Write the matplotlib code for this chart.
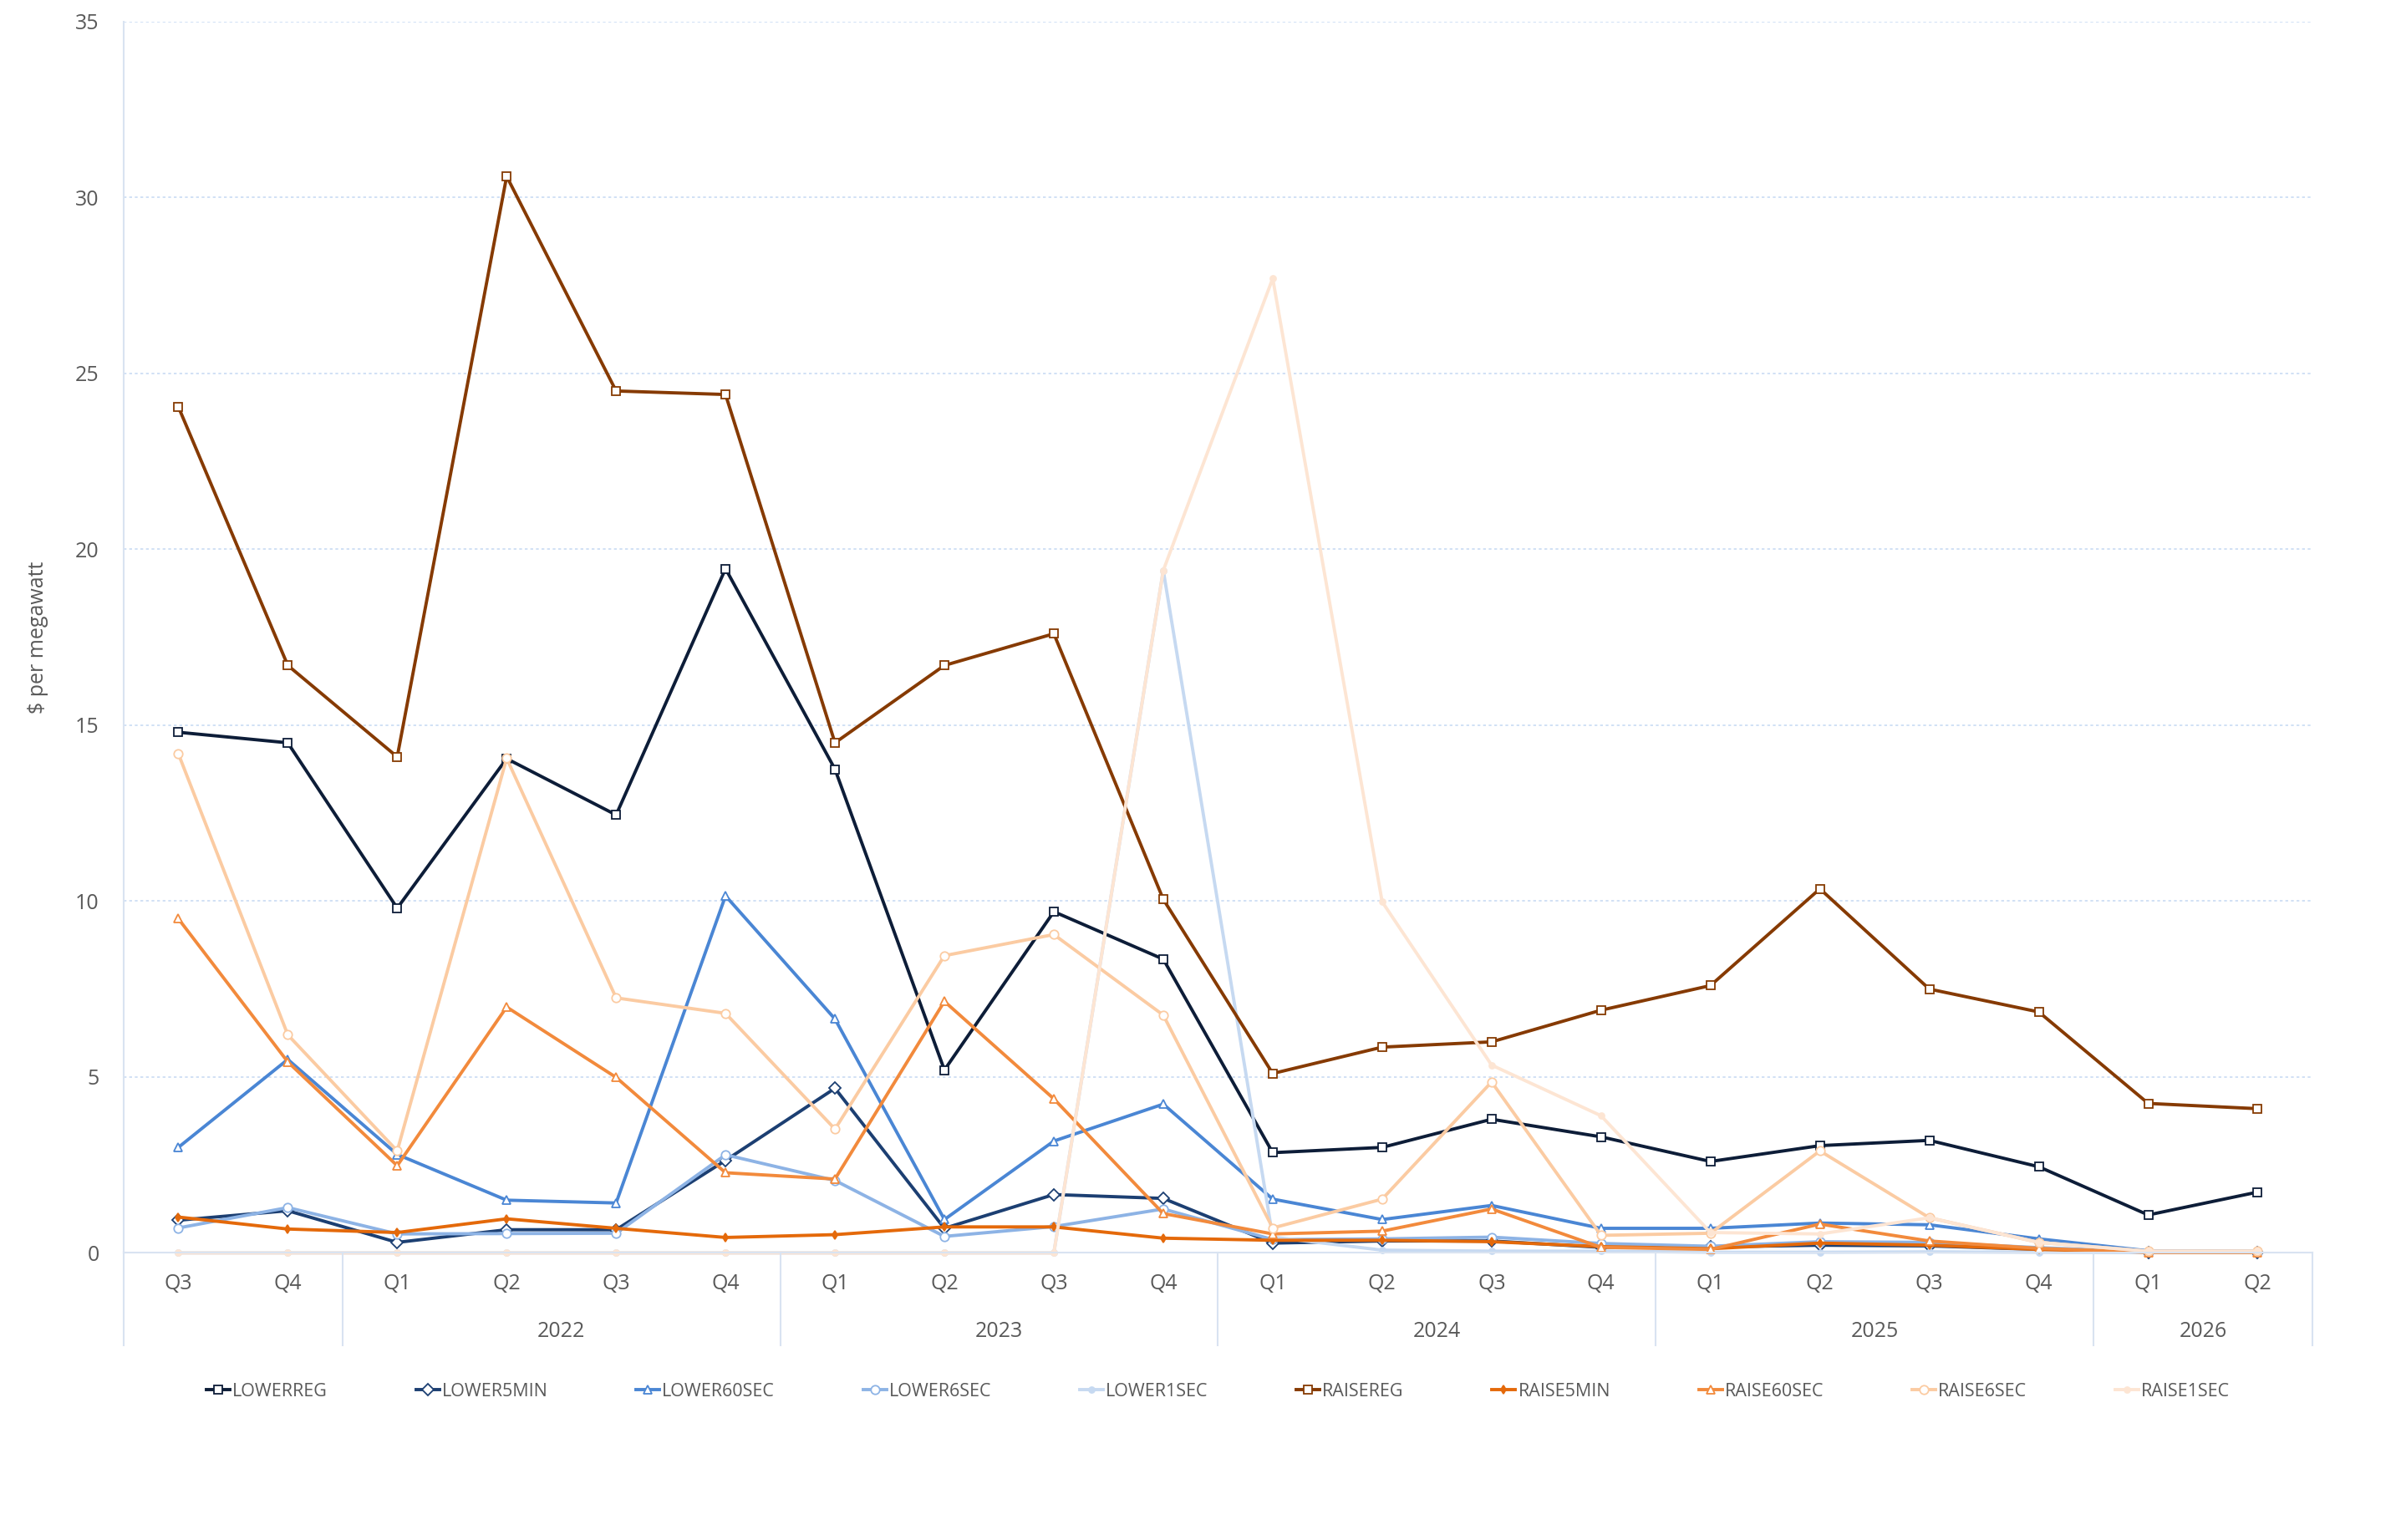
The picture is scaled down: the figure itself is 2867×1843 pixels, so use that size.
"""Quarterly FCAS prices by service, $ per megawatt."""

import matplotlib

matplotlib.use("Agg")
import matplotlib.pyplot as plt
from matplotlib.transforms import blended_transform_factory

QUARTERS = ["Q3", "Q4",
            "Q1", "Q2", "Q3", "Q4",
            "Q1", "Q2", "Q3", "Q4",
            "Q1", "Q2", "Q3", "Q4",
            "Q1", "Q2", "Q3", "Q4",
            "Q1", "Q2"]
YEARS = ["", "2022", "2023", "2024", "2025", "2026"]
YEAR_SIZES = [2, 4, 4, 4, 4, 2]

LOWERREG = [14.8, 14.5, 9.8, 14.05, 12.45, 19.45, 13.75, 5.2, 9.7, 8.35,
            2.85, 3.0, 3.8, 3.3, 2.6, 3.05, 3.2, 2.45, 1.08, 1.73]
LOWER5MIN = [0.93, 1.2, 0.3, 0.66, 0.66, 2.63, 4.68, 0.7, 1.66, 1.55,
             0.28, 0.34, 0.34, 0.16, 0.17, 0.22, 0.2, 0.1, 0.02, 0.02]
LOWER60SEC = [3.0, 5.5, 2.8, 1.5, 1.42, 10.15, 6.65, 0.95, 3.18, 4.23,
              1.53, 0.95, 1.35, 0.7, 0.7, 0.85, 0.8, 0.4, 0.06, 0.05]
LOWER6SEC = [0.71, 1.29, 0.54, 0.55, 0.56, 2.79, 2.06, 0.47, 0.75, 1.25,
             0.38, 0.4, 0.45, 0.27, 0.19, 0.32, 0.3, 0.15, 0.03, 0.03]
LOWER1SEC = [0, 0, 0, 0, 0, 0, 0, 0, 0, 19.4,
             0.45, 0.08, 0.05, 0.05, 0.02, 0.02, 0.03, 0.02, 0.01, 0.01]
RAISEREG = [24.05, 16.7, 14.1, 30.6, 24.5, 24.4, 14.5, 16.7, 17.6, 10.05,
            5.1, 5.85, 6.0, 6.9, 7.6, 10.35, 7.5, 6.85, 4.25, 4.1]
RAISE5MIN = [1.02, 0.68, 0.58, 0.97, 0.7, 0.44, 0.52, 0.74, 0.74, 0.42,
             0.36, 0.36, 0.32, 0.18, 0.12, 0.28, 0.22, 0.1, 0.02, 0.02]
RAISE60SEC = [9.5, 5.43, 2.48, 6.99, 4.99, 2.28, 2.1, 7.15, 4.38, 1.12,
              0.54, 0.62, 1.25, 0.16, 0.1, 0.82, 0.34, 0.13, 0.02, 0.02]
RAISE6SEC = [14.19, 6.2, 2.9, 14.06, 7.25, 6.81, 3.52, 8.45, 9.05, 6.76,
             0.71, 1.53, 4.86, 0.5, 0.56, 2.9, 1.0, 0.3, 0.05, 0.05]
RAISE1SEC = [0, 0, 0, 0, 0, 0, 0, 0, 0, 19.4,
             27.7, 9.98, 5.34, 3.9, 0.58, 0.54, 1.0, 0.3, 0.05, 0.05]

SERIES = [
    ("LOWERREG", LOWERREG, "#0d1d38", "s", "white"),
    ("LOWER5MIN", LOWER5MIN, "#1c3f72", "D", "white"),
    ("LOWER60SEC", LOWER60SEC, "#4a86d4", "^", "white"),
    ("LOWER6SEC", LOWER6SEC, "#8db3e5", "o", "white"),
    ("LOWER1SEC", LOWER1SEC, "#c6d9f1", "o", None),
    ("RAISEREG", RAISEREG, "#863a02", "s", "white"),
    ("RAISE5MIN", RAISE5MIN, "#e4690a", "d", None),
    ("RAISE60SEC", RAISE60SEC, "#f28a3c", "^", "white"),
    ("RAISE6SEC", RAISE6SEC, "#fbcba2", "o", "white"),
    ("RAISE1SEC", RAISE1SEC, "#fde5d3", "o", None),
]

TEXT = "#595959"
GRID = "#c9dcf3"
AXIS = "#d9e3f1"

plt.rcParams["font.family"] = ["Open Sans", "DejaVu Sans"]

fig = plt.figure(figsize=(28.67, 18.43), dpi=100)
ax = fig.add_axes([0.0516, 0.1864, 0.9135, 0.7996])

x = list(range(len(QUARTERS)))
for name, values, color, marker, face in SERIES:
    small = face is None
    ax.plot(x, values, color=color, lw=2.8, marker=marker,
            markersize=5 if small else 7.5,
            markerfacecolor=color if small else face,
            markeredgecolor=color, markeredgewidth=1.3, label=name,
            clip_on=False)

ax.set_xlim(-0.5, len(QUARTERS) - 0.5)
ax.set_ylim(0, 35)
ax.set_yticks(range(0, 36, 5))
ax.yaxis.grid(True, color=GRID, linestyle=(0, (2, 2)), linewidth=1.2)
ax.set_axisbelow(True)
for side in ("top", "right"):
    ax.spines[side].set_visible(False)
for side in ("left", "bottom"):
    ax.spines[side].set_color(AXIS)
    ax.spines[side].set_linewidth(1.5)
ax.tick_params(axis="y", length=0, pad=21, labelsize=18, labelcolor=TEXT)
ax.set_xticks(x)
ax.set_xticklabels(QUARTERS)
ax.tick_params(axis="x", length=0, pad=18, labelsize=18, labelcolor=TEXT)
ax.set_ylabel("$ per megawatt", fontsize=18, color=TEXT)
ax.yaxis.set_label_coords(-0.0344, 0.5)

# second level of the category axis: year groups
trans = blended_transform_factory(ax.transData, ax.transAxes)
edge = -0.5
ax.plot([edge, edge], [0, -0.075], transform=trans, color=AXIS, lw=1.5,
        clip_on=False)
for year, size in zip(YEARS, YEAR_SIZES):
    right = edge + size
    ax.plot([right, right], [0, -0.075], transform=trans, color=AXIS,
            lw=1.5, clip_on=False)
    ax.text((edge + right) / 2, -0.064, year, transform=trans, ha="center",
            va="center", fontsize=18, color=TEXT)
    edge = right

ax.legend(loc="center", bbox_to_anchor=(0.5, -0.1125), ncol=10,
          frameon=False, fontsize=15.5, labelcolor=TEXT, handlelength=1.3,
          handletextpad=0.15, columnspacing=4.9)

fig.savefig("out.png", dpi=100, facecolor="white")
